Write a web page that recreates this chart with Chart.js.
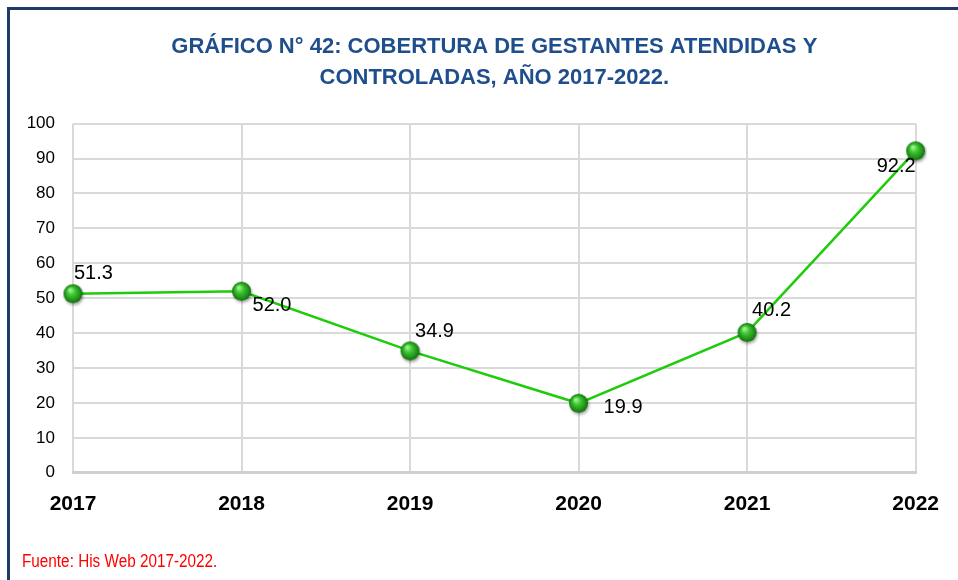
<!DOCTYPE html>
<html lang="es">
<head>
<meta charset="utf-8">
<title>Cobertura de gestantes atendidas y controladas</title>
<script src="https://cdn.jsdelivr.net/npm/chart.js@4.4.1/dist/chart.umd.min.js"></script>
<style>
    html, body { margin: 0; padding: 0; background: #ffffff; overflow: hidden; }
    .marco {
        position: absolute;
        left: 7px;
        top: 7px;
        width: 1000px;
        height: 1000px;
        border-left: 3px solid #1f3a68;
        border-top: 3px solid #1f3a68;
    }
    #chart { position: absolute; left: 0; top: 0; }
    .fuente {
        position: absolute;
        left: 22px;
        top: 551px;
        font-family: 'Liberation Sans', Arial, sans-serif;
        font-size: 18px;
        color: #ff0000;
        transform: scaleX(0.85);
        transform-origin: left top;
    }
</style>
</head>
<body>
<div class="marco"></div>
<canvas id="chart" width="958" height="580"></canvas>
<div class="fuente">Fuente: His Web 2017-2022.</div>

<script>
// Datos
const years = ['2017', '2018', '2019', '2020', '2021', '2022'];
const coverage = [51.3, 52.0, 34.9, 19.9, 40.2, 92.2];
const yTicks = [0, 10, 20, 30, 40, 50, 60, 70, 80, 90, 100];

// where each value label sits relative to its point
const labelPlacement = [
    { dx: 1, dy: -20, align: 'left' },
    { dx: 11, dy: 14, align: 'left' },
    { dx: 5, dy: -19, align: 'left' },
    { dx: 25, dy: 4, align: 'left' },
    { dx: 5, dy: -22, align: 'left' },
    { dx: 0, dy: 16, align: 'right' }
];

// green sphere used as point marker
function makeSphere(r) {
    const pad = 4;
    const size = r * 2 + pad * 2;
    const c = document.createElement('canvas');
    c.width = size;
    c.height = size;
    const g = c.getContext('2d');
    const cx = size / 2, cy = size / 2;
    g.shadowColor = 'rgba(0,0,0,0.35)';
    g.shadowBlur = 3;
    g.shadowOffsetX = 1;
    g.shadowOffsetY = 2;
    const grad = g.createRadialGradient(cx - r * 0.3, cy - r * 0.4, r * 0.1, cx, cy, r);
    grad.addColorStop(0, '#9cf28a');
    grad.addColorStop(0.35, '#3fc634');
    grad.addColorStop(0.8, '#1d8f17');
    grad.addColorStop(1, '#146b10');
    g.fillStyle = grad;
    g.beginPath();
    g.arc(cx, cy, r, 0, Math.PI * 2);
    g.fill();
    return c;
}

const sphere = makeSphere(9.5);

const valueLabels = {
    id: 'valueLabels',
    afterDatasetsDraw(chart) {
        const ctx = chart.ctx;
        const meta = chart.getDatasetMeta(0);
        ctx.save();
        ctx.font = '20px "Liberation Sans", Arial, sans-serif';
        ctx.fillStyle = '#000000';
        ctx.textBaseline = 'middle';
        meta.data.forEach((pt, i) => {
            const p = labelPlacement[i];
            ctx.textAlign = p.align;
            ctx.fillText(coverage[i].toFixed(1), pt.x + p.dx, pt.y + p.dy);
        });
        ctx.restore();
    }
};

const ctx = document.getElementById('chart').getContext('2d');

new Chart(ctx, {
    type: 'line',
    data: {
        labels: years,
        datasets: [{
            data: coverage,
            borderColor: '#1fcc0c',
            borderWidth: 2.5,
            tension: 0,
            pointStyle: sphere,
            pointRadius: 9,
            pointHoverRadius: 9
        }]
    },
    options: {
        responsive: false,
        animation: false,
        events: [],
        layout: {
            padding: { left: 0, right: 29, top: 0, bottom: 44 }
        },
        plugins: {
            legend: { display: false },
            tooltip: { enabled: false },
            title: {
                display: true,
                fullSize: false,
                text: ['GRÁFICO N° 42: COBERTURA DE GESTANTES ATENDIDAS Y', 'CONTROLADAS, AÑO 2017-2022.'],
                color: '#1f4e8c',
                font: { family: '"Liberation Sans", Arial, sans-serif', size: 22, weight: 'bold', lineHeight: 1.4 },
                padding: { top: 32, bottom: 30 }
            }
        },
        scales: {
            x: {
                offset: false,
                grid: { color: '#d9d9d9', lineWidth: 2, drawTicks: false },
                border: { color: '#d0d0d0', width: 3 },
                ticks: {
                    color: '#000000',
                    padding: 19,
                    maxRotation: 0,
                    font: { family: '"Liberation Sans", Arial, sans-serif', size: 21, weight: 'bold' }
                }
            },
            y: {
                min: 0,
                max: 100,
                afterFit(scale) { scale.width = 73; },
                afterBuildTicks(scale) { scale.ticks = yTicks.map(v => ({ value: v })); },
                grid: { color: '#d9d9d9', lineWidth: 2, drawTicks: false },
                border: { display: false },
                ticks: {
                    color: '#000000',
                    padding: 18,
                    font: { family: '"Liberation Sans", Arial, sans-serif', size: 17 }
                }
            }
        }
    },
    plugins: [valueLabels]
});
</script>
</body>
</html>
